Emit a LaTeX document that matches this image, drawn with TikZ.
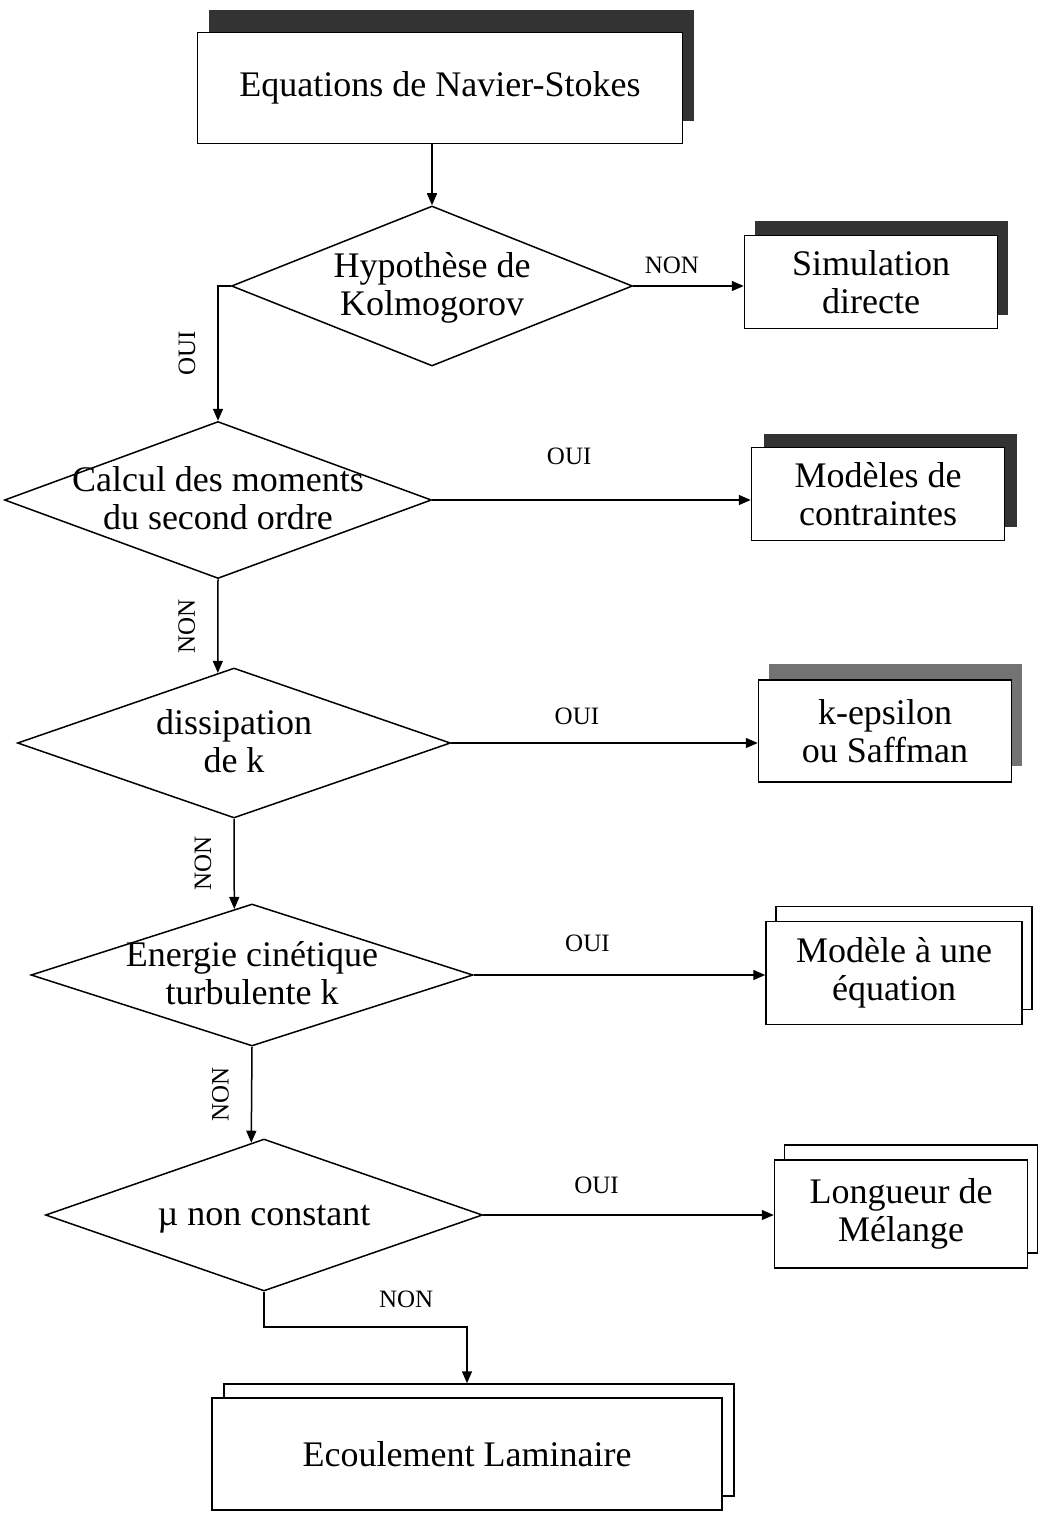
\documentclass[tikz,border=0pt]{standalone}
\usepackage{fontspec}
\setmainfont{Liberation Serif}
\usetikzlibrary{arrows.meta, shapes.geometric, shadows}
\newcommand{\dtext}[1]{\smash{\makebox[0pt]{\raisebox{-9pt}{\begin{tabular}{@{}c@{}}#1\end{tabular}}}}}

\begin{document}
\begin{tikzpicture}[
    x=1pt, y=-1pt,
    font=\fontsize{36}{38}\selectfont,
    line width=1.5pt,
    arr/.style={-{Triangle[length=12pt, width=10pt]}},
    box/.style={draw, fill=white, align=center, inner sep=0pt},
    diam/.style={diamond, draw, fill=white, inner sep=0pt},
    sdark/.style 2 args={general shadow={fill=black!80, opacity=1, shadow xshift=#1, shadow yshift=#2}},
    sgrey/.style 2 args={general shadow={fill=black!55, opacity=1, shadow xshift=#1, shadow yshift=#2}},
    scopy/.style 2 args={copy shadow={shadow xshift=#1, shadow yshift=#2}},
    lab/.style={font=\fontsize{25}{28}\selectfont, inner sep=0pt, above=#1},
    lab/.default=18pt,
    vlab/.style={midway, font=\fontsize{25}{28}\selectfont, inner sep=0pt, xshift=-22pt, rotate=90, anchor=south},
  ]
  \useasboundingbox (0,0) rectangle (1048,1514);
  % ---- main column
  \node[box, minimum width=485pt, minimum height=111pt, sdark={11pt}{22pt}] (nse) at (440,88) {Equations de Navier-Stokes};
  \node[diam, minimum width=401pt, minimum height=160pt] (kol) at (432,286) {\dtext{Hypothèse de\\Kolmogorov}};
  \node[diam, minimum width=427pt, minimum height=157pt] (mom) at (218,500) {\dtext{Calcul des moments\\du second ordre}};
  \node[diam, minimum width=433pt, minimum height=150pt] (diss) at (234,743) {\dtext{dissipation\\de k}};
  \node[diam, minimum width=442pt, minimum height=142pt] (ecin) at (252,975) {\dtext{Energie cinétique\\turbulente k}};
  \node[diam, minimum width=437pt, minimum height=152pt] (visc) at (264,1215) {\dtext{µ non constant}};
  \node[box, minimum width=510pt, minimum height=112pt, scopy={12pt}{14pt}] (lam) at (467,1454) {Ecoulement Laminaire};
  % ---- models on the right
  \node[box, minimum width=253pt, minimum height=93pt, sdark={10pt}{14pt}] (dns) at (871,282) {Simulation\\directe};
  \node[box, minimum width=253pt, minimum height=93pt, sdark={12pt}{14pt}] (rsm) at (878,494) {Modèles de\\contraintes};
  \node[box, minimum width=253pt, minimum height=102pt, sgrey={10pt}{16pt}] (keps) at (885,731) {k-epsilon\\ou Saffman};
  \node[box, minimum width=256pt, minimum height=103pt, scopy={10pt}{15pt}] (uneq) at (894,973) {Modèle à une\\équation};
  \node[box, minimum width=253pt, minimum height=108pt, scopy={10pt}{15pt}] (mel) at (901,1214) {Longueur de\\Mélange};
  % ---- arrows
  \draw[arr] (nse.south -| kol.north) -- (kol.north);
  \draw[arr] (kol.east) -- node[lab=12pt, pos=0.35] {NON} (kol.east -| dns.west);
  \draw[arr] (kol.west) -| node[vlab, pos=0.75] {OUI} (mom.north);
  \draw[arr] (mom.east) -- node[lab=35pt, pos=0.43] {OUI} (mom.east -| rsm.west);
  \draw[arr] (mom.south) -- node[vlab] {NON} (diss.103);
  \draw[arr] (diss.east) -- node[lab, pos=0.41] {OUI} (diss.east -| keps.west);
  \draw[arr] (diss.south) -- node[vlab] {NON} (ecin.105);
  \draw[arr] (ecin.east) -- node[lab=23pt, pos=0.39] {OUI} (ecin.east -| uneq.west);
  \draw[arr] (ecin.south) -- node[vlab] {NON} (visc.100);
  \draw[arr] (visc.east) -- node[lab=21pt, pos=0.39] {OUI} (visc.east -| mel.west);
  \draw[arr] (visc.south) -- ++(0,35) -| node[lab, pos=0.35] {NON} ([yshift=14pt]lam.north);
\end{tikzpicture}
\end{document}
